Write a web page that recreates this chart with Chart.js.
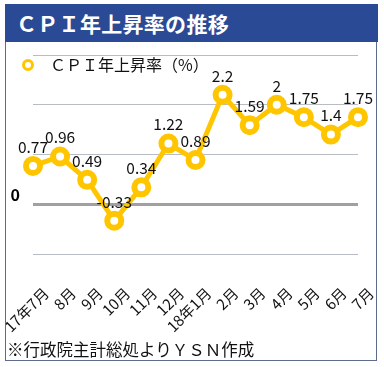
<!DOCTYPE html>
<html>
<head>
<meta charset="utf-8">
<script src="https://cdn.jsdelivr.net/npm/chart.js@4/dist/chart.umd.min.js"></script>
<style>
  body { margin: 0; background: #fff; font-family: "Noto Sans CJK JP", sans-serif; }
  #box {
    position: absolute; left: 5px; top: 4px; width: 370px; height: 356px;
    border: 1.5px solid #5d6b8c; border-top: none;
  }
  #title {
    position: absolute; left: 5px; top: 4px; width: 373px; height: 38px;
    background: #2b4a95; color: #fff; font-weight: bold; font-size: 21px;
    line-height: 38px; padding-left: 11px; box-sizing: border-box; letter-spacing: 0.3px;
  }
  #legend {
    position: absolute; left: 22px; top: 53px; font-size: 16px; color: #111;
    line-height: 22px;
  }
  #legend span.dot {
    display: inline-block; width: 6px; height: 6px; border: 3px solid #ffc600;
    border-radius: 50%; vertical-align: 0px; margin-right: 16px;
  }
  #wrap { position: absolute; left: 6px; top: 42px; width: 370px; height: 298px; }
  #note { position: absolute; left: 7px; top: 337px; font-size: 16.5px; color: #111; }
</style>
</head>
<body>
<div id="box"></div>
<div id="title">ＣＰＩ年上昇率の推移</div>
<div id="wrap"><canvas id="chart"></canvas></div>
<div id="legend"><span class="dot"></span>ＣＰＩ年上昇率（%）</div>
<div id="note">※行政院主計総処よりＹＳＮ作成</div>
<script>
const months = ['17年7月', '8月', '9月', '10月', '11月', '12月', '18年1月', '2月', '3月', '4月', '5月', '6月', '7月'];
const cpiRate = [0.77, 0.96, 0.49, -0.33, 0.34, 1.22, 0.89, 2.2, 1.59, 2, 1.75, 1.4, 1.75];
const yTicks = [-1, 0, 1, 2, 3];

const ctx = document.getElementById('chart').getContext('2d');

// draws the value above every point
const valueLabels = {
    id: 'valueLabels',
    afterDatasetsDraw(chart) {
        const c = chart.ctx;
        const meta = chart.getDatasetMeta(0);
        c.save();
        c.font = '15.5px "Noto Sans CJK JP", sans-serif';
        c.fillStyle = '#111';
        c.textAlign = 'center';
        c.textBaseline = 'middle';
        meta.data.forEach((pt, i) => {
            c.fillText(String(cpiRate[i]), pt.x, pt.y - 19);
        });
        c.restore();
    }
};

new Chart(ctx, {
    type: 'line',
    data: {
        labels: months,
        datasets: [{
            label: 'ＣＰＩ年上昇率（%）',
            data: cpiRate,
            borderColor: '#ffc600',
            borderWidth: 5,
            pointRadius: 7,
            pointBorderWidth: 6,
            pointBackgroundColor: '#fff',
            pointBorderColor: '#ffc600',
            tension: 0
        }]
    },
    options: {
        responsive: true,
        maintainAspectRatio: false,
        animation: false,
        layout: { padding: { top: 7, right: 18, left: 0, bottom: 0 } },
        plugins: {
            legend: { display: false },
            tooltip: { enabled: false }
        },
        scales: {
            x: {
                offset: false,
                grid: { display: false },
                border: { display: false },
                ticks: {
                    autoSkip: false,
                    maxRotation: 45,
                    minRotation: 45,
                    padding: 22,
                    labelOffset: 13,
                    color: '#111',
                    font: { size: 15, family: '"Noto Sans CJK JP", sans-serif' }
                },
                afterFit(s) { s.height = 86; s.paddingLeft = 0; s.paddingRight = 0; }
            },
            y: {
                min: yTicks[0],
                max: yTicks[yTicks.length - 1],
                afterBuildTicks(s) { s.ticks = yTicks.map(v => ({ value: v })); },
                border: { display: false },
                grid: {
                    drawTicks: false,
                    color: c => c.tick && c.tick.value === 0 ? '#a0a0a0' : '#b8bcc4',
                    lineWidth: c => c.tick && c.tick.value === 0 ? 3 : 1
                },
                ticks: {
                    padding: 13,
                    labelOffset: -9,
                    color: '#000',
                    font: { size: 16, weight: 'bold', family: '"Noto Sans CJK JP", sans-serif' },
                    callback: v => v === 0 ? '0' : ''
                },
                afterFit(s) { s.width = 27; s.paddingTop = 0; s.paddingBottom = 0; }
            }
        }
    },
    plugins: [valueLabels]
});
</script>
</body>
</html>
